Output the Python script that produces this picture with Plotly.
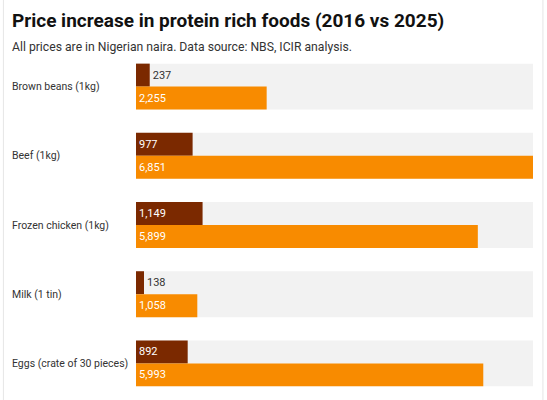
import plotly.graph_objects as go

categories = ["Brown beans (1kg)", "Beef (1kg)", "Frozen chicken (1kg)", "Milk (1 tin)", "Eggs (crate of 30 pieces)"]
prices_2016 = [237, 977, 1149, 138, 892]
prices_2025 = [2255, 6851, 5899, 1058, 5993]

DARK = "#7B2900"
ORANGE = "#F88B00"
BG = "#F2F2F2"
FONT = "Roboto"

vmax = max(prices_2016 + prices_2025)

def positions(vals):
    return ["inside" if v / vmax > 0.1 else "outside" for v in vals]

def fmt(vals):
    return [f"{v:,}" for v in vals]

fig = go.Figure()
fig.add_trace(go.Bar(
    y=categories, x=prices_2016, orientation="h", name="2016",
    marker=dict(color=DARK, line=dict(width=0)),
    text=fmt(prices_2016), textposition=positions(prices_2016),
    insidetextanchor="start", cliponaxis=False,
    insidetextfont=dict(color="white", size=11, family=FONT),
    outsidetextfont=dict(color="#333333", size=11, family=FONT),
    textangle=0, hoverinfo="skip",
))
fig.add_trace(go.Bar(
    y=categories, x=prices_2025, orientation="h", name="2025",
    marker=dict(color=ORANGE, line=dict(width=0)),
    text=fmt(prices_2025), textposition=positions(prices_2025),
    insidetextanchor="start", cliponaxis=False,
    insidetextfont=dict(color="white", size=11, family=FONT),
    outsidetextfont=dict(color="#333333", size=11, family=FONT),
    textangle=0, hoverinfo="skip",
))

gap = 0.336
shapes = []
for i, _ in enumerate(categories):
    shapes.append(dict(type="rect", xref="x", yref="y", layer="below",
                       x0=0, x1=vmax, y0=i - (1 - gap) / 2, y1=i + (1 - gap) / 2,
                       fillcolor=BG, line=dict(width=0)))
# faint container borders
for xp in [-0.334, 1.025]:
    shapes.append(dict(type="line", xref="paper", yref="paper", x0=xp, x1=xp,
                       y0=-0.01, y1=1.16, line=dict(color="#E6E6E6", width=1)))

LX = -0.3174
annotations = []
for c in categories:
    annotations.append(dict(xref="paper", yref="y", x=LX, y=c, text=c,
                            showarrow=False, xanchor="left", yanchor="middle",
                            font=dict(size=10.5, color="#333333", family=FONT)))
annotations.append(dict(xref="paper", yref="paper", x=LX, y=1.0, yshift=32,
                        text="<b>Price increase in protein rich foods (2016 vs 2025)</b>",
                        showarrow=False, xanchor="left", yanchor="middle",
                        font=dict(size=19, color="#111111", family=FONT)))
annotations.append(dict(xref="paper", yref="paper", x=LX, y=1.0, yshift=5,
                        text="All prices are in Nigerian naira. Data source: NBS, ICIR analysis.",
                        showarrow=False, xanchor="left", yanchor="middle",
                        font=dict(size=12.2, color="#333333", family=FONT)))

fig.update_layout(
    width=547, height=400,
    margin=dict(l=136, r=14, t=52, b=2),
    paper_bgcolor="white", plot_bgcolor="white",
    barmode="group", bargap=gap, bargroupgap=0,
    showlegend=False,
    shapes=shapes, annotations=annotations,
    xaxis=dict(range=[0, vmax], showgrid=False, zeroline=False, showticklabels=False, fixedrange=True),
    yaxis=dict(categoryorder="array", categoryarray=categories, autorange="reversed",
               showgrid=False, zeroline=False, showticklabels=False, fixedrange=True,
               range=[4.5, -0.5]),
)

fig.write_html("out.html", config={"displayModeBar": False},
               post_script="document.body.style.margin='0';document.body.style.overflow='hidden';")
